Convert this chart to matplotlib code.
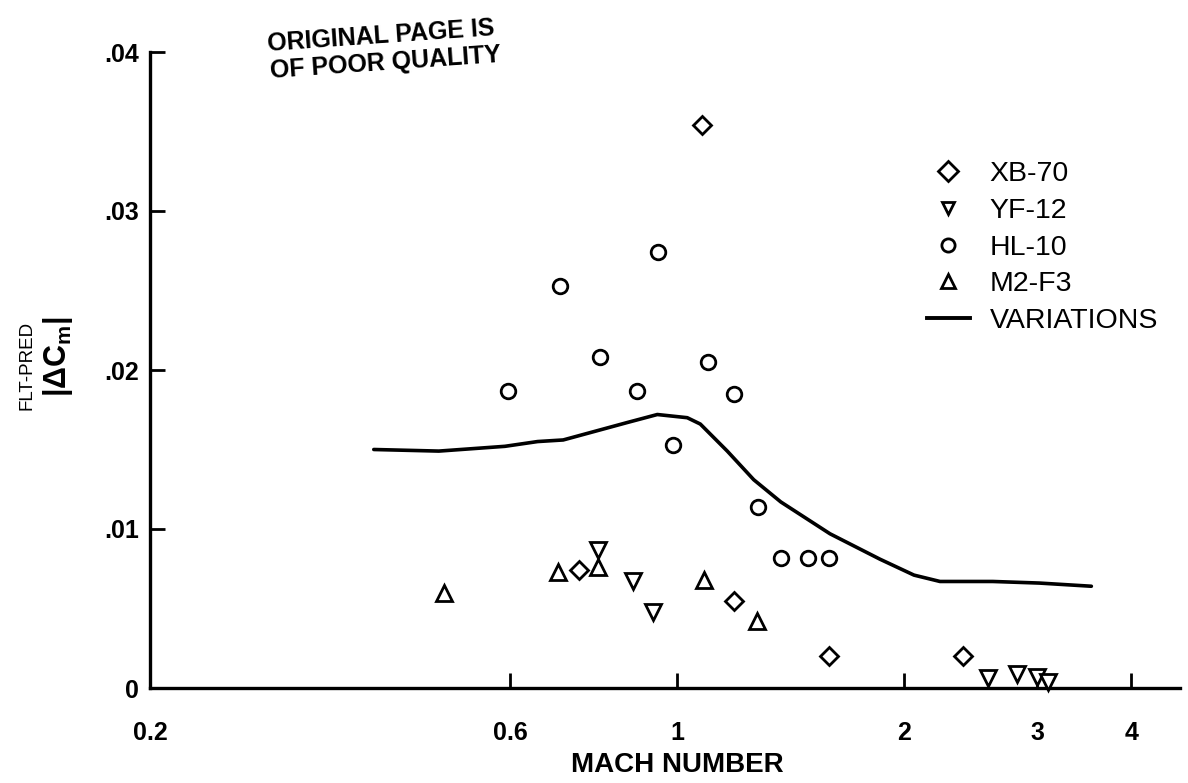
import matplotlib
matplotlib.use("Agg")
import matplotlib.pyplot as plt
from matplotlib.lines import Line2D
from matplotlib.ticker import FixedLocator, FixedFormatter, NullLocator

# ---------------- data ----------------
xb70_mach = [1.08, 0.74, 1.19, 1.59, 2.39]
xb70_dcm = [0.0354, 0.0074, 0.0055, 0.0020, 0.0020]

yf12_mach = [0.786, 0.875, 0.929, 2.58, 2.82, 3.00, 3.10]
yf12_dcm = [0.0087, 0.0067, 0.0048, 0.0006, 0.0009, 0.0007, 0.0004]

hl10_mach = [0.597, 0.70, 0.79, 0.885, 0.944, 0.988, 1.099, 1.19, 1.28, 1.373, 1.49, 1.59]
hl10_dcm = [0.0187, 0.0253, 0.0208, 0.0187, 0.0274, 0.0153, 0.0205, 0.0185, 0.0114, 0.0082, 0.0082, 0.0082]

m2f3_mach = [0.491, 0.694, 0.786, 1.086, 1.277]
m2f3_dcm = [0.0060, 0.0073, 0.0076, 0.0068, 0.0042]

variation_mach = [0.396, 0.483, 0.591, 0.653, 0.706, 0.859, 0.941, 1.031, 1.073, 1.165,
                  1.263, 1.372, 1.594, 1.857, 2.06, 2.23, 2.62, 3.02, 3.54]
variation_dcm = [0.0150, 0.0149, 0.0152, 0.0155, 0.0156, 0.0167, 0.0172, 0.0170, 0.0166, 0.0149,
                 0.0131, 0.0117, 0.0097, 0.0081, 0.0071, 0.0067, 0.0067, 0.0066, 0.0064]

x_ticks = [0.2, 0.6, 1, 2, 3, 4]
x_tick_labels = ["0.2", "0.6", "1", "2", "3", "4"]
y_ticks = [0, 0.01, 0.02, 0.03, 0.04]
y_tick_labels = ["0", ".01", ".02", ".03", ".04"]

series_labels = ["XB-70", "YF-12", "HL-10", "M2-F3", "VARIATIONS"]

# ---------------- style ----------------
plt.rcParams['font.family'] = ['Liberation Sans', 'DejaVu Sans']
plt.rcParams['mathtext.fontset'] = 'custom'
plt.rcParams['mathtext.rm'] = 'Liberation Sans:bold'
plt.rcParams['mathtext.it'] = 'Liberation Sans:bold'
plt.rcParams['mathtext.bf'] = 'Liberation Sans:bold'

W, H = 1188, 783
fig = plt.figure(figsize=(W / 100, H / 100), dpi=100)
left, right, bottom, top = 150, 1180, 688, 52
ax = fig.add_axes([left / W, 1 - bottom / H, (right - left) / W, (bottom - top) / H])

mk = dict(linestyle='none', markerfacecolor='white', markeredgecolor='black',
          markeredgewidth=2.0, color='black', clip_on=False)

ax.plot(variation_mach, variation_dcm, color='black', lw=2.6,
        solid_capstyle='round', solid_joinstyle='round', zorder=2)
ax.plot(xb70_mach, xb70_dcm, marker='D', markersize=9.5, zorder=3, **mk)
ax.plot(yf12_mach, yf12_dcm, marker='v', markersize=11, zorder=3, **mk)
ax.plot(hl10_mach, hl10_dcm, marker='o', markersize=10.5, zorder=3, **mk)
ax.plot(m2f3_mach, m2f3_dcm, marker='^', markersize=11, zorder=3, **mk)

ax.set_xscale('log')
ax.set_xlim(0.2, 4.64)
ax.set_ylim(0, 0.04)

ax.xaxis.set_major_locator(FixedLocator(x_ticks))
ax.xaxis.set_major_formatter(FixedFormatter(x_tick_labels))
ax.xaxis.set_minor_locator(NullLocator())
ax.yaxis.set_major_locator(FixedLocator(y_ticks))
ax.yaxis.set_major_formatter(FixedFormatter(y_tick_labels))

for s in ['top', 'right']:
    ax.spines[s].set_visible(False)
for s in ['left', 'bottom']:
    ax.spines[s].set_linewidth(2.4)

ax.tick_params(axis='x', direction='in', length=11, width=2, pad=24,
               labelsize=18)
ax.tick_params(axis='y', direction='in', length=11, width=2, pad=8,
               labelsize=18)
for lab in ax.get_xticklabels() + ax.get_yticklabels():
    lab.set_fontweight('bold')

ax.set_xlabel("MACH NUMBER", fontsize=20, fontweight='bold')
ax.xaxis.set_label_coords((677 - left) / (right - left), -(765 - bottom) / (bottom - top))
ax.xaxis.label.set_verticalalignment('center')

fig.text(27 / W, 1 - 365 / H, "FLT-PRED", rotation=90, fontsize=13.5,
         ha='center', va='center')
fig.text(58 / W, 1 - 357 / H, r"$|\Delta C_{m}|$", rotation=90, fontsize=22,
         ha='center', va='center')

# stamp
fig.text(268 / W, 1 - 44 / H, "ORIGINAL PAGE IS", rotation=4, fontsize=18,
         fontweight='bold', ha='left', va='center', rotation_mode='anchor')
fig.text(270 / W, 1 - 71 / H, "OF POOR QUALITY", rotation=4, fontsize=18,
         fontweight='bold', ha='left', va='center', rotation_mode='anchor')

handles = [
    Line2D([], [], marker='D', markersize=10, **mk),
    Line2D([], [], marker='v', markersize=9, **mk),
    Line2D([], [], marker='o', markersize=9.5, **mk),
    Line2D([], [], marker='^', markersize=10, **mk),
    Line2D([], [], color='black', lw=2.8),
]
leg = fig.legend(handles, series_labels, loc='upper left',
                 bbox_to_anchor=(927 / W, 1 - 161 / H), frameon=False,
                 fontsize=20.5, handlelength=1.5, handletextpad=0.7,
                 labelspacing=0.38, borderpad=0, borderaxespad=0)

fig.savefig("out.png", dpi=100, facecolor='white')
